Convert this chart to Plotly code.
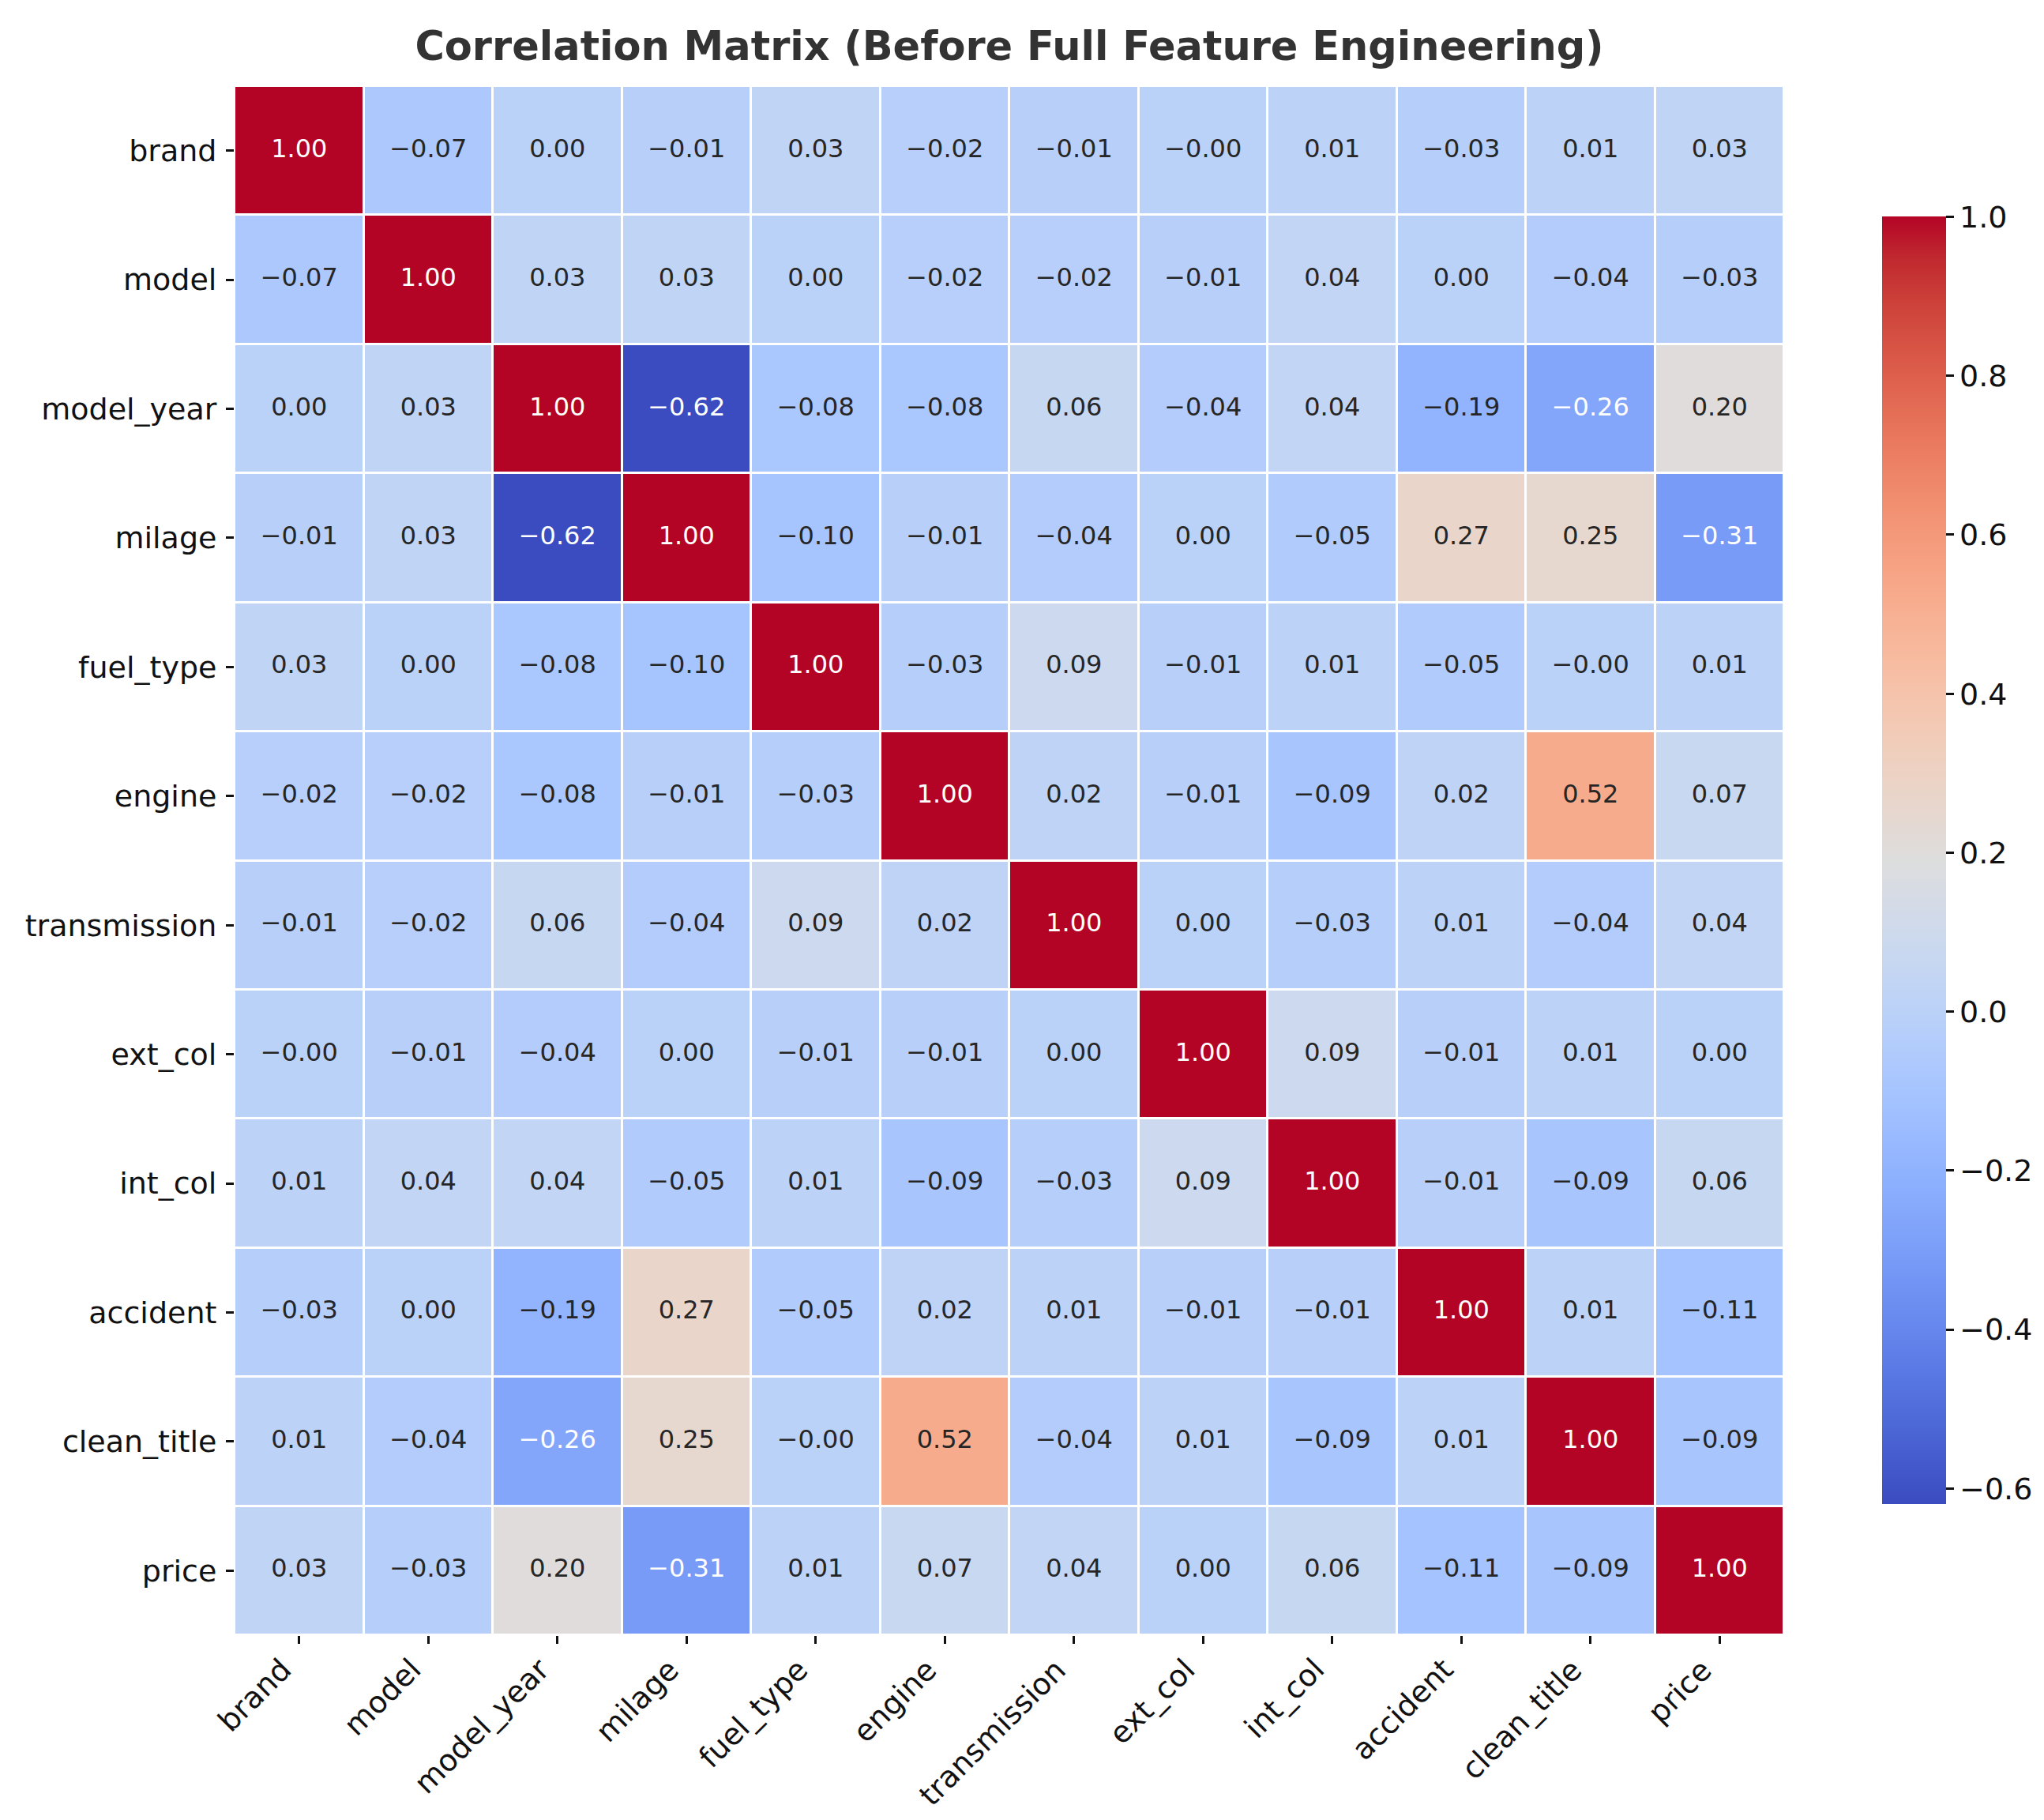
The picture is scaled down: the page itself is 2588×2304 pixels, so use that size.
import plotly.graph_objects as go

features = ["brand", "model", "model_year", "milage", "fuel_type", "engine",
            "transmission", "ext_col", "int_col", "accident", "clean_title", "price"]

# correlation values (rows in the same order as features)
brand = [1.00, -0.07, 0.00, -0.01, 0.03, -0.02, -0.01, -0.00, 0.01, -0.03, 0.01, 0.03]
model = [-0.07, 1.00, 0.03, 0.03, 0.00, -0.02, -0.02, -0.01, 0.04, 0.00, -0.04, -0.03]
model_year = [0.00, 0.03, 1.00, -0.62, -0.08, -0.08, 0.06, -0.04, 0.04, -0.19, -0.26, 0.20]
milage = [-0.01, 0.03, -0.62, 1.00, -0.10, -0.01, -0.04, 0.00, -0.05, 0.27, 0.25, -0.31]
fuel_type = [0.03, 0.00, -0.08, -0.10, 1.00, -0.03, 0.09, -0.01, 0.01, -0.05, -0.00, 0.01]
engine = [-0.02, -0.02, -0.08, -0.01, -0.03, 1.00, 0.02, -0.01, -0.09, 0.02, 0.52, 0.07]
transmission = [-0.01, -0.02, 0.06, -0.04, 0.09, 0.02, 1.00, 0.00, -0.03, 0.01, -0.04, 0.04]
ext_col = [-0.00, -0.01, -0.04, 0.00, -0.01, -0.01, 0.00, 1.00, 0.09, -0.01, 0.01, 0.00]
int_col = [0.01, 0.04, 0.04, -0.05, 0.01, -0.09, -0.03, 0.09, 1.00, -0.01, -0.09, 0.06]
accident = [-0.03, 0.00, -0.19, 0.27, -0.05, 0.02, 0.01, -0.01, -0.01, 1.00, 0.01, -0.11]
clean_title = [0.01, -0.04, -0.26, 0.25, -0.00, 0.52, -0.04, 0.01, -0.09, 0.01, 1.00, -0.09]
price = [0.03, -0.03, 0.20, -0.31, 0.01, 0.07, 0.04, 0.00, 0.06, -0.11, -0.09, 1.00]

corr = [brand, model, model_year, milage, fuel_type, engine,
        transmission, ext_col, int_col, accident, clean_title, price]

cbar_ticks = [-0.6, -0.4, -0.2, 0.0, 0.2, 0.4, 0.6, 0.8, 1.0]

# coolwarm (Moreland) anchor colours
cw = [(59, 76, 192), (68, 90, 204), (77, 104, 215), (87, 117, 225), (98, 130, 234),
      (108, 142, 241), (119, 154, 247), (130, 165, 251), (141, 176, 254), (152, 185, 255),
      (163, 194, 255), (174, 201, 253), (184, 208, 249), (194, 213, 244), (204, 217, 238),
      (213, 219, 230), (221, 221, 221), (229, 216, 209), (236, 211, 197), (241, 204, 185),
      (245, 196, 173), (247, 187, 160), (247, 177, 148), (247, 166, 135), (244, 154, 123),
      (241, 141, 111), (236, 127, 99), (229, 112, 88), (222, 96, 77), (213, 80, 66),
      (203, 62, 56), (192, 40, 47), (180, 4, 38)]
n = len(cw) - 1
colorscale = [[i / n, "rgb(%d,%d,%d)" % c] for i, c in enumerate(cw)]

zmin = min(min(r) for r in corr)
zmax = max(max(r) for r in corr)


def cmap(v):
    t = (v - zmin) / (zmax - zmin)
    t = max(0.0, min(1.0, t)) * n
    i = min(int(t), n - 1)
    f = t - i
    return [cw[i][k] + (cw[i + 1][k] - cw[i][k]) * f for k in range(3)]


def lum(rgb):
    out = []
    for c in rgb:
        c = c / 255.0
        out.append(c / 12.92 if c <= 0.03928 else ((c + 0.055) / 1.055) ** 2.4)
    return 0.2126 * out[0] + 0.7152 * out[1] + 0.0722 * out[2]


def fmt(v):
    s = "%.2f" % abs(v)
    neg = v < 0 or (v == 0 and str(v).startswith("-"))
    return ("\u2212" + s) if neg else s


tx, ty, tt, tc = [], [], [], []
for i, row in enumerate(corr):
    for j, v in enumerate(row):
        tx.append(features[j])
        ty.append(features[i])
        tt.append(fmt(v))
        tc.append("white" if lum(cmap(v)) < 0.408 else "#262626")

fig = go.Figure()
fig.add_trace(go.Heatmap(
    z=corr, x=features, y=features,
    colorscale=colorscale, zmin=zmin, zmax=zmax,
    xgap=3, ygap=3, hoverongaps=False,
    colorbar=dict(
        x=(2375 - 289) / 1962, xanchor="left", xpad=0,
        y=0.5, yanchor="middle", ypad=0,
        thickness=81, len=1630, lenmode="pixels",
        outlinewidth=0, ticks="outside", ticklen=10, tickwidth=2.5,
        tickcolor="#111111",
        tickvals=cbar_ticks,
        ticktext=[("\u2212%.1f" % abs(t)) if t < 0 else "%.1f" % t for t in cbar_ticks],
        tickfont=dict(size=38, color="#111111", family="DejaVu Sans"),
    ),
))
fig.add_trace(go.Scatter(
    x=tx, y=ty, text=tt, mode="text",
    textfont=dict(size=32, color=tc, family="DejaVu Sans"),
    hoverinfo="skip", showlegend=False,
))

# x labels rotated 45 deg, right/top of the rotated box at the tick (like matplotlib ha='right')
for f in features:
    fig.add_annotation(
        x=f, xref="x", y=0, yref="paper", yshift=-20,
        text=f, textangle=-45, showarrow=False,
        xanchor="right", yanchor="top", borderpad=0,
        font=dict(size=38, color="#111111", family="DejaVu Sans"),
    )

axis_common = dict(
    type="category", showgrid=False, zeroline=False, showline=False,
    ticks="outside", ticklen=10, tickwidth=2.5, tickcolor="#111111",
    tickfont=dict(size=38, color="#111111", family="DejaVu Sans"),
)

fig.update_layout(
    width=2588, height=2304,
    margin=dict(l=289, r=337, t=101, b=242),
    paper_bgcolor="white", plot_bgcolor="white",
    font=dict(family="DejaVu Sans"),
    title=dict(
        text="<b>Correlation Matrix (Before Full Feature Engineering)</b>",
        font=dict(size=51, color="#333333", family="DejaVu Sans"),
        x=0.5, xref="paper", xanchor="center",
        y=1 - 50 / 2304, yref="container", yanchor="middle",
    ),
    xaxis=dict(axis_common, range=[-0.5, 11.5], showticklabels=False),
    yaxis=dict(axis_common, range=[11.5, -0.5], ticklabelstandoff=4),
    showlegend=False,
)

fig.write_html("out.html")
